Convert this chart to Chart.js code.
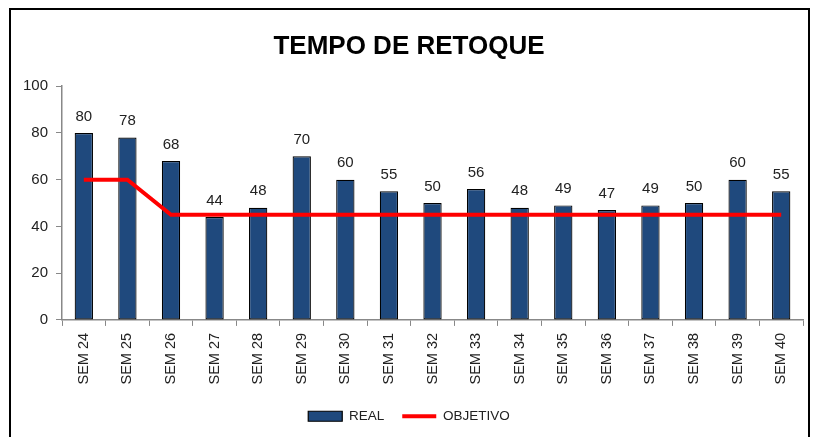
<!DOCTYPE html>
<html>
<head>
<meta charset="utf-8">
<script src="https://cdn.jsdelivr.net/npm/chart.js@4/dist/chart.umd.min.js"></script>
<style>
  html, body { margin: 0; padding: 0; background: #fff; overflow: hidden; }
  #box {
    position: absolute; left: 9px; top: 8px;
    width: 797px; height: 460px;
    border: 2px solid #000; background: #fff;
  }
  #wrap { position: absolute; left: 0; top: 0; width: 797px; height: 428px; }
</style>
</head>
<body>
<div id="box"><div id="wrap"><canvas id="Chart"></canvas></div></div>
<script>
// semanas
const semanas = ['SEM 24', 'SEM 25', 'SEM 26', 'SEM 27', 'SEM 28', 'SEM 29', 'SEM 30', 'SEM 31', 'SEM 32',
                 'SEM 33', 'SEM 34', 'SEM 35', 'SEM 36', 'SEM 37', 'SEM 38', 'SEM 39', 'SEM 40'];
// valores reais
const real = [80, 78, 68, 44, 48, 70, 60, 55, 50, 56, 48, 49, 47, 49, 50, 60, 55];
// objetivo
const objetivo = [60, 60, 45, 45, 45, 45, 45, 45, 45, 45, 45, 45, 45, 45, 45, 45, 45];
const yTicks = [0, 20, 40, 60, 80, 100];

const fontFam = "'Liberation Sans', Arial, sans-serif";

// rótulos de valor em cima das barras
const valueLabels = {
    id: 'valueLabels',
    afterDatasetsDraw(chart) {
        const ctx = chart.ctx;
        const meta = chart.getDatasetMeta(0);
        ctx.save();
        ctx.font = '15px ' + fontFam;
        ctx.fillStyle = '#222';
        ctx.textAlign = 'center';
        ctx.textBaseline = 'bottom';
        meta.data.forEach((bar, i) => {
            ctx.fillText(chart.data.datasets[0].data[i], bar.x, bar.y - 9);
        });
        ctx.restore();
    }
};

var context = document.getElementById('Chart').getContext('2d');

var myChart = new Chart(context, {
    type: 'bar',
    data: {
        labels: semanas,
        datasets: [{
            label: 'REAL',
            data: real,
            backgroundColor: '#1F497D',
            borderColor: '#000',
            borderWidth: 1.2,
            borderSkipped: false,
            categoryPercentage: 1,
            barPercentage: 0.42,
            pointStyle: 'rect',
            order: 1
        }, {
            type: 'line',
            label: 'OBJETIVO',
            data: objetivo,
            borderColor: '#FF0000',
            backgroundColor: '#FF0000',
            borderWidth: 4,
            pointRadius: 0,
            pointStyle: 'line',
            tension: 0,
            order: 0
        }]
    },
    options: {
        responsive: true,
        maintainAspectRatio: false,
        animation: false,
        layout: { padding: { left: 4, right: 5, top: 0, bottom: 5 } },
        scales: {
            x: {
                grid: { display: true, drawOnChartArea: false, color: '#888', tickLength: 6, offset: true },
                border: { color: '#888', width: 1.5 },
                ticks: {
                    minRotation: 90, maxRotation: 90,
                    color: '#222',
                    font: { family: fontFam, size: 14.5 },
                    padding: 7
                }
            },
            y: {
                min: 0, max: 100,
                afterBuildTicks: (axis) => { axis.ticks = yTicks.map(v => ({ value: v })); },
                grid: { display: true, drawOnChartArea: false, color: '#888', tickLength: 6 },
                border: { color: '#888', width: 1.5 },
                ticks: {
                    color: '#222',
                    font: { family: fontFam, size: 15 },
                    padding: 8
                }
            }
        },
        plugins: {
            title: {
                display: true,
                text: 'TEMPO DE RETOQUE',
                color: '#000',
                font: { family: fontFam, size: 26, weight: 'bold' },
                padding: { top: 21, bottom: 24 }
            },
            legend: {
                position: 'bottom',
                reverse: true,
                labels: {
                    usePointStyle: true,
                    pointStyleWidth: 34,
                    boxHeight: 10,
                    color: '#222',
                    font: { family: fontFam, size: 13.5 },
                    padding: 18
                }
            },
            tooltip: { enabled: false }
        }
    },
    plugins: [valueLabels]
});
</script>
</body>
</html>
